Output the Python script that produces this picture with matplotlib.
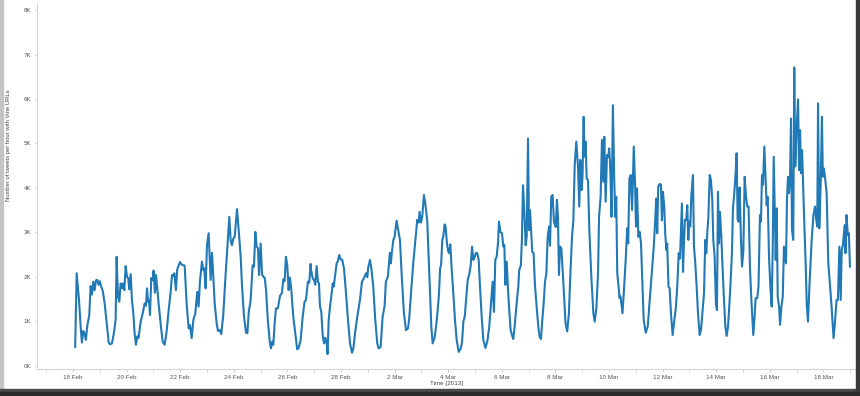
import datetime as dt
import matplotlib
matplotlib.use("Agg")
import matplotlib.pyplot as plt
import matplotlib.dates as mdates
from matplotlib.patches import Rectangle

# hourly Vine-URL tweet counts (hours after 18 Feb 2013 00:00, thousands)
hours = [
    2.0, 3.3, 5.4, 6.9, 8.0, 9.2, 10.3, 11.6, 12.7, 14.6, 15.8, 17.0, 18.2, 19.4, 20.6, 21.8, 22.9, 24.0, 25.3, 26.6,
    28.4, 30.2, 32.0, 33.2, 34.9, 36.7, 38.2, 39.1, 40.3, 41.5, 42.7, 43.9, 45.0, 46.0, 47.2, 48.4, 49.5, 50.4, 51.7,
    52.8, 54.0, 55.2, 56.4, 57.6, 58.7, 60.6, 62.4, 64.2, 65.4, 66.3, 67.2, 68.1, 69.0, 70.1, 71.3, 72.2, 73.4, 74.3,
    75.5, 76.7, 78.5, 80.3, 82.1, 83.9, 85.7, 87.5, 88.7, 89.9, 90.8, 92.2, 93.4, 95.8, 97.6, 100.0, 101.8, 103.6,
    104.8, 106.3,
    107.8, 109.5, 111.3, 112.5, 113.7, 115.5, 116.7, 117.6, 118.8, 120.0, 121.5, 123.3, 124.5, 125.7, 126.9, 128.7,
    129.9, 131.7, 132.8, 134.6, 136.4, 137.6, 138.8, 140.0, 141.2, 142.4, 143.6, 144.8, 146.0, 146.9, 148.4, 150.2,
    151.4, 153.2, 155.0, 156.2, 157.4, 159.1, 160.9, 162.1, 163.3, 164.5, 165.7, 166.6, 168.1, 169.3, 170.5, 171.7,
    172.9, 174.6, 176.4, 177.3, 178.5, 179.4, 180.6, 181.8, 183.5, 185.4, 187.2, 188.3, 189.5, 190.7, 191.9, 193.1,
    194.3, 195.5, 197.3, 199.1, 200.8, 202.0, 203.8, 205.6, 207.4, 208.6, 210.4, 211.6, 212.8,
    213.3, 214.6, 215.8, 217.0, 218.2, 219.4, 220.3, 221.2, 222.4, 223.6, 224.8, 226.0, 227.2, 228.0, 229.0, 230.2,
    231.7, 232.6, 233.5, 234.6, 236.1, 237.0, 238.5, 239.7, 241.1, 242.7, 244.5, 246.3, 248.1, 249.9, 251.1, 252.8,
    254.6, 257.0, 258.8, 260.6, 262.4, 263.6, 264.4, 266.0, 267.2, 268.9, 270.7, 272.5, 273.7, 275.5, 277.3, 279.1,
    280.2, 282.0, 283.8, 284.7, 285.6, 286.9, 288.0, 289.8, 291.0, 292.8, 294.6, 296.4, 298.2, 300.0, 301.1, 302.9,
    304.7, 306.5, 308.3, 309.5, 310.4, 311.6, 312.8, 314.3, 315.5, 317.3, 319.1, 320.9, 322.1,
    324.0, 325.8, 327.6, 328.8, 329.7, 330.7, 331.6, 332.8, 333.7, 334.9, 336.1, 337.0, 337.9, 339.1, 340.6, 342.1,
    343.6, 345.4, 347.2, 348.4, 349.6, 350.8, 352.0, 353.5, 355.0, 356.2, 357.4, 358.6, 359.8, 360.9, 362.1, 363.3,
    364.5, 366.0, 367.5, 369.3, 371.1, 372.8, 374.6, 375.8, 377.0, 378.2, 379.4, 380.6, 381.5, 382.7, 384.2, 385.4,
    386.3, 387.2, 388.4, 389.6, 390.7, 391.9, 393.1, 394.3, 395.5, 397.3, 398.8, 399.6, 401.1, 402.0, 403.0, 404.2,
    405.4, 406.3, 407.5, 408.4, 409.3, 410.2, 411.3, 412.5, 413.7, 415.2, 416.7, 417.9, 419.1, 420.3, 421.5, 422.7,
    423.9, 425.1, 426.3, 427.2, 428.3, 429.5, 430.7,
    432.3, 433.4, 434.3, 435.2, 436.1, 437.3, 438.5, 440.0, 441.1, 442.6, 444.1, 445.3, 446.9, 448.1, 449.3, 450.7,
    452.2, 453.4, 454.3, 455.5, 456.3, 457.3, 458.2, 459.1, 460.0, 461.2, 462.4, 464.2, 466.0, 467.2, 468.7, 470.2,
    471.1, 472.5, 473.7, 474.9, 475.8, 477.0, 478.2, 479.4, 480.2, 481.1, 482.3, 483.5, 484.7, 485.6, 486.5, 487.4,
    488.6, 489.4, 490.3, 492.1, 493.6, 495.1, 496.3, 497.2, 498.3, 499.5, 500.7, 502.2, 503.4, 504.2, 505.1, 506.3,
    507.5, 508.7, 509.9, 511.1, 512.9, 514.7, 516.5, 518.3, 520.1, 521.4, 522.3, 523.2, 524.1, 525.3, 526.5, 527.4,
    528.3, 529.5, 530.4, 531.5, 532.1, 533.3,
    534.3, 535.5, 537.0, 538.2, 540.0, 541.2, 542.4, 543.6, 544.8, 545.3, 546.3, 547.1, 548.0, 549.2, 550.1, 551.0,
    551.9, 552.8, 553.7, 555.2, 556.1, 557.3, 558.5, 559.7, 561.2, 562.4, 563.6, 565.1, 566.2, 567.1, 568.0, 569.0,
    570.2, 571.3, 572.5, 573.4, 574.6, 575.8, 576.7, 577.6, 578.5, 579.4, 580.6, 581.8, 583.0, 584.2, 585.4, 586.6,
    588.4, 590.1, 591.0, 592.2, 593.4, 594.3, 595.2, 596.1, 597.0, 598.2, 599.1, 600.3, 601.5, 602.7, 603.9, 605.0,
    606.2, 607.5, 609.2, 610.4, 611.3, 612.8, 613.9, 615.2, 616.1, 617.0, 617.9, 619.1, 620.3, 621.2, 622.1, 623.3,
    624.5, 625.7, 626.6, 627.5, 628.4, 629.3, 630.2, 631.1, 632.3, 633.2, 634.4, 635.6, 636.7,
    638.5, 639.4, 640.3, 641.2, 642.1, 643.0, 643.9, 645.0, 645.9, 646.8, 648.0, 649.3, 650.2, 651.1, 652.0, 652.9,
    653.7, 654.9, 656.2, 657.1, 658.2, 659.6, 661.5, 663.1, 664.5, 665.6, 666.5, 667.2, 668.3, 669.6, 670.7, 671.5,
    672.4, 673.4, 674.9, 676.4, 677.8, 679.3, 681.1, 682.3, 683.8, 685.0, 686.3, 687.5, 688.4, 689.5, 691.0, 691.8,
    692.7, 693.9, 694.8, 695.8,
]
tweets_k = [
    0.42, 2.08, 1.48, 0.88, 0.52, 0.78, 0.73, 0.58, 0.88, 1.14, 1.79, 1.60, 1.89, 1.70, 1.92, 1.93, 1.82, 1.90, 1.78, 1.69,
    1.40, 0.95, 0.52, 0.48, 0.50, 0.74, 1.03, 2.45, 1.55, 1.44, 1.85, 1.74, 1.85, 1.70, 2.24, 2.00, 1.97, 1.72, 2.06,
    1.48, 1.20, 0.73, 0.47, 0.66, 0.62, 0.99, 1.17, 1.40, 1.35, 1.74, 1.44, 1.48, 1.14, 1.97, 1.92, 2.14, 1.64, 2.04,
    1.74, 1.40, 0.95, 0.54, 0.47, 0.77, 1.25, 1.66, 2.04, 2.02, 2.08, 1.70, 2.17, 2.33, 2.27, 2.25, 1.40, 0.84,
    0.91, 0.62,
    1.03, 1.17, 1.66, 1.33, 1.89, 2.34, 2.15, 2.19, 1.74, 2.71, 2.98, 1.93, 2.54, 2.00, 1.40, 0.95,
    0.78, 0.80, 0.71, 1.14, 1.93, 2.41, 2.86, 3.35, 2.82, 2.71, 2.86, 2.90, 3.24, 3.52, 3.05, 2.45,
    1.78, 1.10, 0.74, 0.73, 1.20, 1.48, 2.26, 2.23, 3.01, 2.68, 2.64, 2.04, 2.75, 2.05, 2.00, 1.98,
    1.70, 0.99, 0.50, 0.39, 0.54, 0.47, 0.95, 1.29, 1.29, 1.57, 1.64, 1.94, 1.90, 2.45, 2.26, 1.70,
    1.98, 1.71, 1.10, 0.73, 0.37, 0.39, 0.56, 1.07, 1.44, 1.47, 1.89, 1.87, 2.29,
    2.15, 1.97, 1.93, 1.82, 2.24, 1.89, 1.85, 1.33, 1.21, 0.69, 0.50, 0.63, 0.50, 0.26, 1.03, 1.33,
    1.63, 1.85, 1.78, 2.00, 2.30, 2.34, 2.49, 2.39, 2.38, 2.19, 1.63, 1.03, 0.50, 0.29, 0.39, 0.77,
    1.10, 1.48, 1.89, 1.97, 2.08, 1.99, 2.21, 2.38, 2.19, 1.78, 1.03, 0.50, 0.39, 0.42, 1.10, 1.35,
    1.89, 2.00, 2.54, 2.30, 2.56, 2.83, 2.90, 3.26, 3.09, 2.83, 1.93, 1.18, 0.80, 0.84, 1.06, 1.70,
    2.30, 2.79, 3.28, 3.22, 3.46, 3.22, 3.36, 3.84, 3.65, 3.24, 2.08, 0.88, 0.50,
    0.65, 1.03, 1.55, 2.19, 2.27, 2.83, 2.90, 3.18, 3.13, 2.75, 2.56, 2.53, 2.73, 2.19, 1.63, 1.03,
    0.58, 0.31, 0.38, 0.53, 0.99, 1.10, 1.48, 1.93, 2.07, 2.26, 2.68, 2.38, 2.45, 2.54, 2.53, 2.38,
    1.78, 1.10, 0.58, 0.40, 0.55, 0.88, 1.48, 1.89, 1.21, 2.38, 2.45, 2.75, 3.24, 3.01, 2.98, 2.68,
    2.71, 1.82, 2.34, 1.70, 1.25, 0.80, 0.69, 0.60, 0.88, 1.40, 1.78, 2.15, 2.26, 2.83, 4.06, 3.46,
    2.71, 2.90, 5.11, 3.05, 3.50, 3.09, 2.56, 2.53, 1.82, 1.33, 0.88, 0.65, 0.60, 1.03, 1.40, 1.89,
    2.07, 2.90, 3.13, 2.70, 3.80, 3.84, 3.24,
    3.12, 3.73, 3.35, 2.04, 2.68, 2.64, 2.16, 1.48, 0.95, 0.77, 1.17, 2.00, 2.90, 3.27, 4.51, 5.04,
    4.51, 3.58, 4.63, 3.95, 4.25, 5.60, 4.70, 5.04, 4.21, 4.18, 3.05, 2.00, 1.18, 0.99, 1.29, 2.08,
    3.35, 3.80, 5.08, 4.14, 5.15, 3.69, 4.74, 4.70, 4.89, 4.48, 3.35, 5.86, 4.18, 3.35, 3.80, 2.08,
    1.78, 1.52, 1.56, 1.18, 1.78, 2.45, 3.09, 2.75, 4.21, 4.29, 3.50, 4.93, 4.03, 3.13, 3.99, 2.90,
    3.01, 2.75, 1.85, 1.03, 0.74, 0.88, 1.48, 2.08, 2.68, 3.28, 3.76, 2.98, 4.03, 4.09, 4.07, 3.27,
    3.91, 3.58, 2.94, 2.60, 2.75, 1.78,
    1.74, 1.18, 0.69, 0.95, 1.33, 1.82, 2.53, 2.41, 3.28, 3.65, 2.11, 2.75, 3.28, 3.28, 3.61, 2.83,
    3.24, 3.13, 3.80, 4.29, 2.68, 2.30, 1.78, 1.18, 0.69, 0.80, 1.18, 1.63, 2.83, 2.53, 2.98, 3.35,
    4.29, 4.18, 3.73, 2.83, 2.45, 1.37, 1.25, 3.91, 2.75, 3.46, 2.90, 2.15, 1.48, 0.88, 0.67, 0.88,
    1.63, 2.53, 3.54, 3.88, 4.33, 4.78, 3.28, 3.24, 4.01, 2.83, 2.23, 2.56, 4.25, 3.80, 3.58, 3.58,
    2.23, 1.48, 0.69, 1.10, 1.52, 1.52, 1.78, 3.39, 3.24, 4.29, 4.07, 4.93, 4.18, 3.61, 3.80, 2.45,
    1.78, 1.33, 2.60, 4.70, 3.50, 2.38, 3.54, 1.55, 1.33, 0.92, 1.33, 1.55, 2.68,
    2.30, 3.73, 4.25, 3.88, 4.21, 5.56, 3.05, 2.83, 6.71, 4.48, 5.30, 5.99, 4.40, 5.30, 4.33, 4.85,
    4.18, 3.20, 2.23, 1.37, 0.99, 1.85, 2.83, 3.39, 3.58, 3.28, 3.13, 5.90, 3.09, 4.10, 5.60, 4.25,
    4.44, 4.25, 3.88, 2.30, 1.85, 1.33, 0.62, 0.96, 1.48, 1.48, 2.68, 1.48, 2.60, 2.72, 3.16, 2.53,
    3.39, 2.94, 2.98, 2.23,
]
assert len(hours) == len(tweets_k), (len(hours), len(tweets_k))

y_ticks = [0, 1, 2, 3, 4, 5, 6, 7, 8]
start = dt.datetime(2013, 2, 18)
label_days = [start + dt.timedelta(days=2 * i) for i in range(15)]
all_days = [start + dt.timedelta(days=i) for i in range(-1, 30)]

times = [start + dt.timedelta(hours=h) for h in hours]

plt.rcParams['font.family'] = ['Liberation Sans', 'DejaVu Sans']

fig = plt.figure(figsize=(8.6, 3.96), dpi=100)
ax = fig.add_axes([37 / 860, 27 / 396, 818 / 860, 366 / 396])

ax.plot(times, tweets_k, color='#2179b5', lw=1.5, solid_joinstyle='round')

ax.set_xlim(start - dt.timedelta(hours=32.2), start + dt.timedelta(hours=700.3))
ax.set_ylim(-0.075, 8.16)

ax.set_yticks(y_ticks)
ax.set_yticklabels([f"{v}K" for v in y_ticks])
ax.set_xticks(label_days)
ax.set_xticklabels([f"{d.day} {d:%b}" for d in label_days])
ax.set_xticks(all_days, minor=True)

for side in ('top', 'right'):
    ax.spines[side].set_visible(False)
for side in ('left', 'bottom'):
    ax.spines[side].set_color('#d4d4d4')
    ax.spines[side].set_linewidth(0.8)

ax.tick_params(axis='both', which='both', colors='#c8c8c8', labelcolor='#555555',
               labelsize=4.5, length=1.8, width=0.6, pad=2.5)

fig.text(447 / 860, 1 - 383 / 396, 'Time [2013]', ha='center', va='center',
         fontsize=4.5, color='#444444')
fig.text(9 / 860, 1 - 145 / 396, 'Number of tweets per hour with Vine URLs',
         rotation=90, ha='center', va='center', fontsize=4.2, color='#444444')

# screenshot frame: light edge on the left, dark shadow bottom and right
fig.patches.append(Rectangle((0, 0), 3 / 860, 1, transform=fig.transFigure,
                             color='#c4c4c4', zorder=0))
fig.patches.append(Rectangle((0, 0), 1, 7 / 396, transform=fig.transFigure,
                             color='#4a4a4a', zorder=5))
fig.patches.append(Rectangle((0, 0), 1, 4 / 396, transform=fig.transFigure,
                             color='#2a2a2a', zorder=6))
fig.patches.append(Rectangle((856 / 860, 0), 4 / 860, 1, transform=fig.transFigure,
                             color='#3a3a3a', zorder=5))

fig.savefig('out.png', dpi=100)
